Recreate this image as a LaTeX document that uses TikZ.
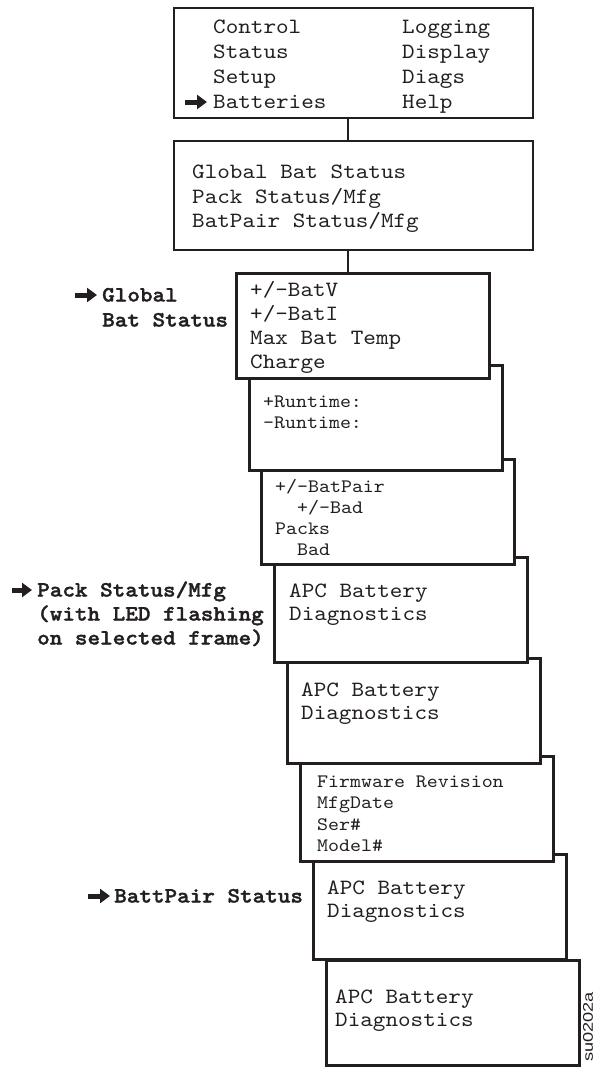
\documentclass[tikz,border=0pt]{standalone}
\usepackage{fontspec}
\setmonofont{lmmono10-regular}[Extension=.otf, BoldFont=lmmonolt10-bold,
	BoldFeatures={FakeBold=1.6}, FakeStretch=1.1]
\newfontfamily\tagfont{Liberation Sans}[FakeStretch=1.3]
\usepackage{tikz}
\usetikzlibrary{arrows.meta}
\definecolor{ink}{RGB}{35,31,32}

\begin{document}
\begin{tikzpicture}[x=1pt, y=-1pt,
		frame/.style={draw=ink, fill=white, line width=3pt, anchor=north west,
		              minimum width=253pt, minimum height=105pt, inner sep=0pt},
		menu/.style={frame, line width=2.2pt, minimum width=359pt, minimum height=110pt},
		ln/.style={font=\ttfamily\fontsize{21.8}{24}\selectfont, text=ink, anchor=west,
		           inner sep=0pt, text height=13pt, text depth=0pt},
		sm/.style={ln, font=\ttfamily\fontsize{19}{21}\selectfont, text height=11.4pt},
		side/.style={ln, font=\ttfamily\bfseries\fontsize{21.8}{24}\selectfont},
		pointer/.style={draw=ink, line width=5pt, -{Triangle[length=10pt, width=14pt]}},
		link/.style={draw=ink, line width=1.4pt}]
		\useasboundingbox (0,0) rectangle (595,1068);
		\node[menu] (menu) at (173,7) {};
		\node[menu, minimum height=109pt] (sub) at (173,140) {};
		\foreach \k/\x/\y in {10/325/959, 9/312/853, 8/299/755, 7/286/657,
		                      6/273/556, 5/260/458, 4/248/364, 3/235/272}
			\node[frame] (f\k) at (\x,\y) {};
		\draw[link] ([xshift=-5.5pt]menu.south) -- ([xshift=-5.5pt]sub.north);
		\draw[link] ([xshift=-5.5pt]sub.south) -- ([xshift=-5.5pt]sub.south |- f3.north);
		\foreach \y/\a/\b in {27/Control/Logging, 52/Status/Display, 77/Setup/Diags, 102/Batteries/Help} {
			\node[ln] (l\y) at (213,\y) {\a};
			\node[ln] (r\y) at (402,\y) {\b};
		}
		\draw[pointer] ([xshift=-28pt]l102.west) -- ([xshift=-6pt]l102.west);
		\foreach \y/\t in {172/{Global Bat Status}, 197/{Pack Status/Mfg}, 221/{BatPair Status/Mfg}}
			\node[ln] (s\y) at (192,\y) {\t};
		\foreach \y/\t in {290/{+/-BatV}, 314/{+/-BatI}, 338/{Max Bat Temp}, 362/{Charge}}
			\node[ln] (v\y) at (250,\y) {\t};
		\foreach \y/\t in {402/{+Runtime:}, 423/{-Runtime:}}
			\node[sm] (t\y) at (263,\y) {\t};
		\foreach \x/\y/\t in {275/487/{+/-BatPair}, 297/508/{+/-Bad}, 275/529/{Packs}, 297/550/{Bad}}
			\node[sm] (p\y) at (\x,\y) {\t};
		\foreach \y/\t in {782/{Firmware Revision}, 803/{MfgDate}, 825/{Ser\#}, 846/{Model\#}}
			\node[sm] (m\y) at (317,\y) {\t};
		\foreach \x/\y in {289/591, 301/690, 327/888, 335/997} {
			\node[ln] (a\y) at (\x,\y) {APC Battery};
			\node[ln] (d\y) at (\x,\y+23) {Diagnostics};
		}
		\node[side] (glob) at (102,295) {Global};
		\node[side] (globb) at (102,320) {Bat Status};
		\draw[pointer] ([xshift=-27pt]glob.west) -- ([xshift=-5pt]glob.west);
		\node[side] (pack) at (37,590) {Pack Status/Mfg};
		\node[side] (packb) at (37,614) {(with LED flashing};
		\node[side] (packc) at (37,638) {on selected frame)};
		\draw[pointer] ([xshift=-25pt]pack.west) -- ([xshift=-5pt]pack.west);
		\node[side] (pair) at (114,896) {BattPair Status};
		\draw[pointer] ([xshift=-26pt]pair.west) -- ([xshift=-4pt]pair.west);
		\node[font=\tagfont\fontsize{14}{14}\selectfont, text=ink, rotate=90, anchor=north,
		      inner sep=0pt] (tag) at (583,1027) {su0202a};
	\end{tikzpicture}
\end{document}
